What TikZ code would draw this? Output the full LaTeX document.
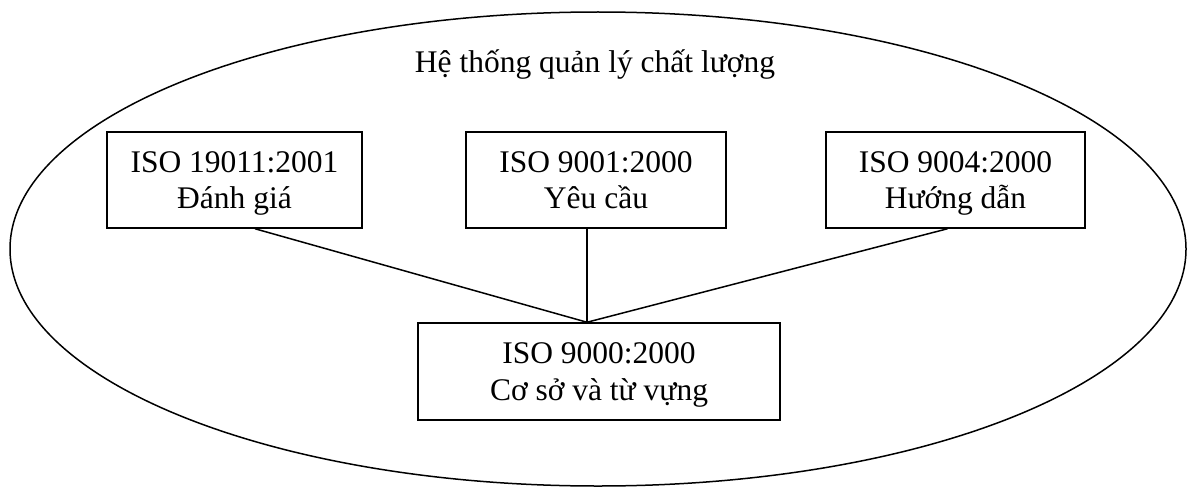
\documentclass[tikz,border=0pt]{standalone}
\usepackage{fontspec}
\setmainfont{Liberation Serif}
\usetikzlibrary{shapes.geometric}
% fixed line struts so every box sets its two lines at the same baselines
\newcommand{\toprow}{\rule{0pt}{31.5pt}}
\newcommand{\lowrow}{\rule[-11pt]{0pt}{11pt}}
\begin{document}
\begin{tikzpicture}[x=1pt, y=-1pt,
  every node/.style={font=\fontsize{31.5}{36.5}\selectfont, inner sep=0pt},
  stdbox/.style={draw, line width=1.5pt, minimum height=96pt, align=center},
  link/.style={line width=1.5pt}]
  \useasboundingbox (0,0) rectangle (1188,487);
  % outer system boundary
  \node[draw, ellipse, line width=1.5pt, minimum width=1176pt, minimum height=474pt] (qms) at (598,249) {};
  \node[anchor=base] (title) at (595,72) {Hệ thống quản lý chất lượng};
  % standards
  \node[stdbox, minimum width=255pt] (audit) at (234.5,180) {\toprow ISO 19011:2001\\Đánh giá\lowrow};
  \node[stdbox, minimum width=260pt] (req) at (596,180) {\toprow ISO 9001:2000\\Yêu cầu\lowrow};
  \node[stdbox, minimum width=259pt] (guide) at (955.5,180) {\toprow ISO 9004:2000\\Hướng dẫn\lowrow};
  \node[stdbox, minimum width=362pt, minimum height=97pt] (vocab) at (599,371.5) {\toprow ISO 9000:2000\\Cơ sở và từ vựng\lowrow};
  % links to the vocabulary standard
  \coordinate (hub) at ([xshift=-12pt]vocab.north);
  \draw[link] ([xshift=20.5pt]audit.south) -- (hub);
  \draw[link] ([xshift=-9pt]req.south) -- (hub);
  \draw[link] ([xshift=-8pt]guide.south) -- (hub);
\end{tikzpicture}
\end{document}
